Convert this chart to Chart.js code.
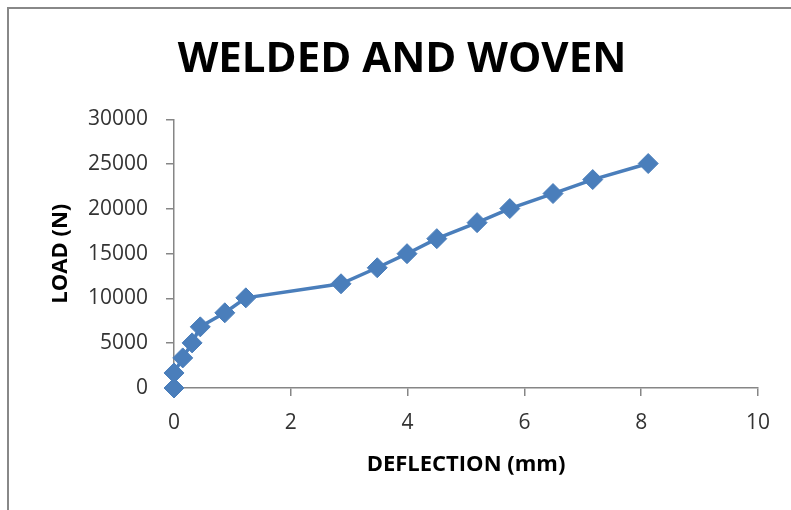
<!DOCTYPE html>
<html>
<head>
<meta charset="utf-8">
<script src="https://cdn.jsdelivr.net/npm/chart.js@4"></script>
<style>
  html, body { margin: 0; padding: 0; background: #fff; overflow: hidden; }
  #wrap { position: relative; width: 791px; height: 510px; }
  #frame {
    position: absolute; left: 7px; top: 7px; width: 900px; height: 600px;
    border-left: 2px solid #888; border-top: 2px solid #888; pointer-events: none;
  }
</style>
</head>
<body>
<div id="wrap">
  <canvas id="chart" width="791" height="510"></canvas>
  <div id="frame"></div>
</div>
<script>
// values
const deflection = [0, 0, 0.15, 0.31, 0.45, 0.87, 1.23, 2.86, 3.48, 3.99, 4.5, 5.19, 5.75, 6.49, 7.17, 8.12];
const load = [0, 1680, 3360, 5040, 6830, 8400, 10070, 11640, 13430, 15000, 16680, 18470, 20040, 21720, 23280, 25070];
const xTicks = [0, 2, 4, 6, 8, 10];
const yTicks = [0, 5000, 10000, 15000, 20000, 25000, 30000];

const blue = '#4A7EBB';
const axisGray = '#868686';
const tickFont = { family: "'Open Sans', 'Liberation Sans', sans-serif", size: 21 };
const titleFont = { family: "'Open Sans', 'Liberation Sans', sans-serif", size: 22, weight: 'bold' };

const points = deflection.map((x, i) => ({ x: x, y: load[i] }));

new Chart(document.getElementById('chart').getContext('2d'), {
  type: 'line',
  data: {
    datasets: [{
      data: points,
      borderColor: blue,
      backgroundColor: blue,
      borderWidth: 3.5,
      tension: 0,
      pointStyle: 'rectRot',
      pointRadius: 10,
      pointBorderWidth: 1,
      pointBorderColor: blue,
      pointBackgroundColor: blue,
      clip: false
    }]
  },
  options: {
    responsive: false,
    animation: false,
    layout: { padding: { left: 46, right: 33, top: 0, bottom: 0 } },
    plugins: {
      legend: { display: false },
      tooltip: { enabled: false },
      title: {
        display: true,
        text: 'WELDED AND WOVEN',
        color: '#000',
        font: { family: "'Open Sans', 'Liberation Sans', sans-serif", size: 42, weight: 'bold', lineHeight: 1.2 },
        padding: { top: 35, bottom: 34 }
      }
    },
    scales: {
      x: {
        type: 'linear',
        min: 0,
        max: 10,
        afterFit: s => { s.height = 122; },
        afterBuildTicks: s => { s.ticks = xTicks.map(v => ({ value: v })); },
        ticks: { font: tickFont, color: '#333', padding: 14, callback: v => String(v) },
        grid: { drawOnChartArea: false, drawTicks: true, tickLength: 8, color: axisGray, lineWidth: 1.5 },
        border: { display: true, color: axisGray, width: 1.5 },
        title: { display: true, text: 'DEFLECTION (mm)', color: '#000', font: titleFont, padding: { top: 0, bottom: 32 } }
      },
      y: {
        type: 'linear',
        min: 0,
        max: 30000,
        afterFit: s => { s.width = 128; },
        afterBuildTicks: s => { s.ticks = yTicks.map(v => ({ value: v })); },
        ticks: { font: tickFont, color: '#333', padding: 18, callback: v => String(v) },
        grid: { drawOnChartArea: false, drawTicks: true, tickLength: 8, color: axisGray, lineWidth: 1.5 },
        border: { display: true, color: axisGray, width: 1.5 },
        title: { display: true, text: 'LOAD (N)', color: '#000', font: titleFont, padding: { top: 2, bottom: 0 } }
      }
    }
  }
});
</script>
</body>
</html>
